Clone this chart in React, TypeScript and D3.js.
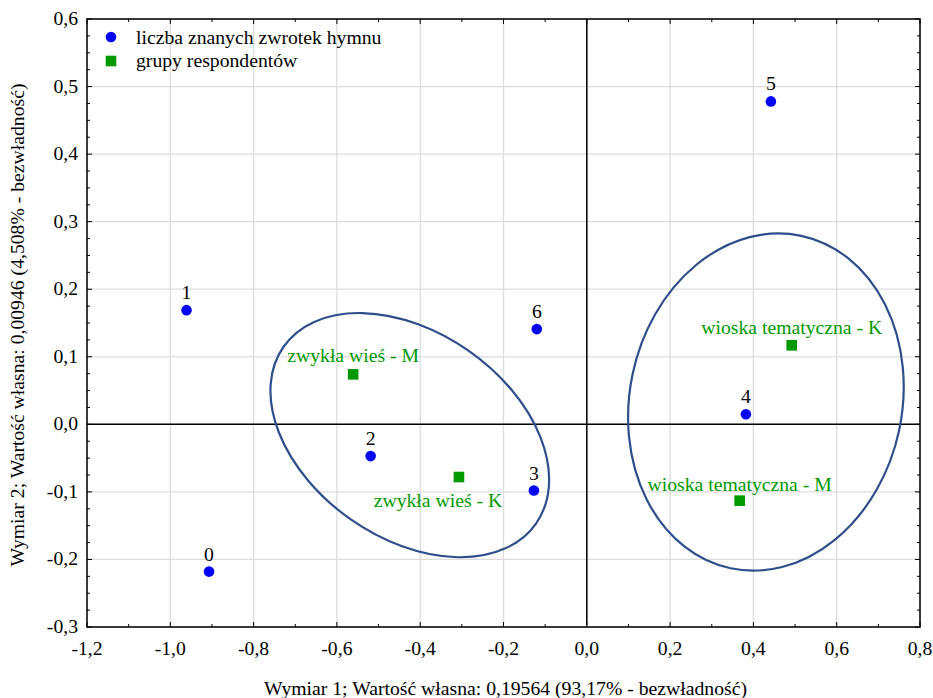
import React from "react";
import * as d3 from "d3";

// Data
const pointLabels = ["0", "1", "2", "3", "4", "5", "6"];
const pointX = [-0.907, -0.961, -0.519, -0.127, 0.382, 0.442, -0.12];
const pointY = [-0.218, 0.169, -0.047, -0.098, 0.015, 0.478, 0.141];

const groupLabels = ["zwykła wieś - M", "zwykła wieś - K", "wioska tematyczna - K", "wioska tematyczna - M"];
const groupX = [-0.561, -0.307, 0.492, 0.367];
const groupY = [0.074, -0.078, 0.117, -0.113];

// ellipses: center (data), semi-axes (in x-axis units), rotation (deg)
const ellipseCx = [-0.425, 0.43];
const ellipseCy = [-0.016, 0.033];
const ellipseA = [0.37, 0.327];
const ellipseB = [0.247, 0.408];
const ellipseAngle = [35, 12];

const xTicks = [-1.2, -1.0, -0.8, -0.6, -0.4, -0.2, 0.0, 0.2, 0.4, 0.6, 0.8];
const yTicks = [-0.3, -0.2, -0.1, 0.0, 0.1, 0.2, 0.3, 0.4, 0.5, 0.6];

const legendItems = ["liczba znanych zwrotek hymnu", "grupy respondentów"];
const xTitle = "Wymiar 1; Wartość własna: 0,19564 (93,17% - bezwładność)";
const yTitle = "Wymiar 2; Wartość własna: 0,00946 (4,508% - bezwładność)";

const W = 933;
const H = 698;
const L = 87, R = 920, T = 19, B = 627;
const FONT = '"Liberation Serif", "Times New Roman", serif';
const FS = 19.7;
const BLUE = "#0000ff";
const GREEN = "#009900";
const ELL = "#2e4f8c";

const fmt = (v: number) => v.toFixed(1).replace(".", ",");

// label placement (pixel offsets from marker) - style only
const groupLabelDx = [0, -21, 0, 0];
const groupLabelDy = [-12, 30, -11, -10];

export default function App() {
  const x = d3.scaleLinear().domain([-1.2, 0.8]).range([L, R]);
  const y = d3.scaleLinear().domain([-0.3, 0.6]).range([B, T]);
  const pxPerX = x(1) - x(0);

  const xMinor = d3.range(-1.2, 0.8001, 0.1).map((v) => +v.toFixed(2));
  const yMinor = d3.range(-0.3, 0.6001, 0.025).map((v) => +v.toFixed(3));

  const ts = { fontFamily: FONT, fontSize: FS } as React.CSSProperties;

  return (
    <svg
      width={W}
      height={H}
      style={{ position: "absolute", left: 0, top: 0, background: "#fff" }}
    >
      <rect x={0} y={0} width={W} height={H} fill="#fff" />
      {/* grid */}
      {xTicks.map((t) => (
        <line key={"gx" + t} x1={x(t)} x2={x(t)} y1={T} y2={B} stroke="#dcdcdc" strokeWidth={1.3} />
      ))}
      {yTicks.map((t) => (
        <line key={"gy" + t} x1={L} x2={R} y1={y(t)} y2={y(t)} stroke="#dcdcdc" strokeWidth={1.3} />
      ))}
      {/* zero lines */}
      <line x1={L} x2={R} y1={y(0)} y2={y(0)} stroke="#000" strokeWidth={1.5} />
      <line x1={x(0)} x2={x(0)} y1={T} y2={B - 2} stroke="#000" strokeWidth={1.5} />

      {/* minor/major ticks inward */}
      {xMinor.map((t, i) => {
        const len = i % 2 === 0 ? 5 : 3;
        return (
          <g key={"xt" + i}>
            <line x1={x(t)} x2={x(t)} y1={B} y2={B - len} stroke="#000" strokeWidth={1} />
            <line x1={x(t)} x2={x(t)} y1={T} y2={T + len} stroke="#000" strokeWidth={1} />
          </g>
        );
      })}
      {yMinor.map((t, i) => {
        const len = i % 4 === 0 ? 5 : 3;
        return (
          <g key={"yt" + i}>
            <line x1={L} x2={L + len} y1={y(t)} y2={y(t)} stroke="#000" strokeWidth={1} />
            <line x1={R} x2={R - len} y1={y(t)} y2={y(t)} stroke="#000" strokeWidth={1} />
          </g>
        );
      })}

      {/* frame */}
      <rect x={L} y={T} width={R - L} height={B - T} fill="none" stroke="#000" strokeWidth={1.5} />

      {/* ellipses */}
      {ellipseCx.map((cx, i) => (
        <ellipse
          key={"el" + i}
          cx={0}
          cy={0}
          rx={ellipseA[i] * pxPerX}
          ry={ellipseB[i] * pxPerX}
          transform={`translate(${x(cx)},${y(ellipseCy[i])}) rotate(${ellipseAngle[i]})`}
          fill="none"
          stroke={ELL}
          strokeWidth={2.2}
        />
      ))}

      {/* points */}
      {pointLabels.map((lab, i) => (
        <g key={"p" + i}>
          <circle cx={x(pointX[i])} cy={y(pointY[i])} r={5.3} fill={BLUE} />
          <text x={x(pointX[i])} y={y(pointY[i]) - 11} textAnchor="middle" style={ts} fill="#000">
            {lab}
          </text>
        </g>
      ))}

      {/* groups */}
      {groupLabels.map((lab, i) => (
        <g key={"g" + i}>
          <rect x={x(groupX[i]) - 5.3} y={y(groupY[i]) - 5.3} width={10.6} height={10.6} fill={GREEN} />
          <text
            x={x(groupX[i]) + groupLabelDx[i]}
            y={y(groupY[i]) + groupLabelDy[i]}
            textAnchor="middle"
            style={ts}
            fill={GREEN}
          >
            {lab}
          </text>
        </g>
      ))}

      {/* legend */}
      <circle cx={111} cy={37} r={5.3} fill={BLUE} />
      <text x={136} y={44} style={ts} fill="#000">{legendItems[0]}</text>
      <rect x={105.7} y={55.7} width={10.6} height={10.6} fill={GREEN} />
      <text x={136} y={67} style={ts} fill="#000">{legendItems[1]}</text>

      {/* tick labels */}
      {xTicks.map((t) => (
        <text key={"xl" + t} x={x(t)} y={B + 28} textAnchor="middle" style={ts} fill="#000">
          {fmt(t)}
        </text>
      ))}
      {yTicks.map((t) => (
        <text key={"yl" + t} x={L - 9} y={y(t) + 6} textAnchor="end" style={ts} fill="#000">
          {fmt(t)}
        </text>
      ))}

      {/* axis titles */}
      <text x={(L + R) / 2 + 2} y={695} textAnchor="middle" style={ts} fill="#000">
        {xTitle}
      </text>
      <text
        transform={`translate(24,${(T + B) / 2 + 2}) rotate(-90)`}
        textAnchor="middle"
        style={ts}
        fill="#000"
      >
        {yTitle}
      </text>
    </svg>
  );
}
